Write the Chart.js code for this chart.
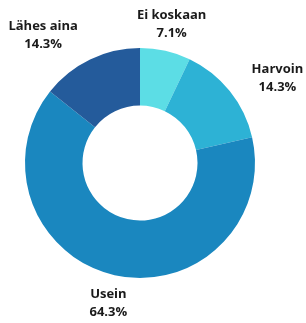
<!DOCTYPE html>
<html>
<head>
<meta charset="utf-8">
<script src="https://cdn.jsdelivr.net/npm/chart.js@4/dist/chart.umd.min.js"></script>
<style>
  html, body { margin: 0; padding: 0; background: #fff; }
  canvas { display: block; }
</style>
</head>
<body>
<canvas id="donut" width="306" height="323"></canvas>
<script>
// data
const categories = ['Ei koskaan', 'Harvoin', 'Usein', 'Lähes aina'];
const values = [7.1, 14.3, 64.3, 14.3];
const valueLabels = ['7.1%', '14.3%', '64.3%', '14.3%'];
const sliceColors = ['#5cdde5', '#2db2d5', '#1a87bf', '#245b9b'];

// draws the two-line label outside each slice, lines centred inside their block
const outsideLabels = {
    id: 'outsideLabels',
    afterDraw(chart) {
        const ctx = chart.ctx;
        const arcs = chart.getDatasetMeta(0).data;
        ctx.save();
        ctx.font = 'bold 13px "Open Sans", "Noto Sans", sans-serif';
        ctx.fillStyle = '#1a1a1a';
        ctx.textBaseline = 'middle';
        ctx.textAlign = 'center';
        arcs.forEach((arc, i) => {
            const mid = (arc.startAngle + arc.endAngle) / 2;
            const r = arc.outerRadius + 28;
            const c = Math.cos(mid);
            let cx = arc.x + c * r;
            const cy = arc.y + Math.sin(mid) * r + (Math.abs(c) > 0.6 ? 5 : 1);
            const w = Math.max(ctx.measureText(categories[i]).width, ctx.measureText(valueLabels[i]).width);
            if (c > 0.3) cx += w / 2;
            else if (c < -0.3) cx -= w / 2;
            ctx.fillText(categories[i], cx, cy - 9);
            ctx.fillText(valueLabels[i], cx, cy + 9);
        });
        ctx.restore();
    }
};

new Chart(document.getElementById('donut'), {
    type: 'doughnut',
    data: {
        labels: categories,
        datasets: [{
            data: values,
            backgroundColor: sliceColors,
            borderWidth: 0
        }]
    },
    options: {
        responsive: false,
        animation: false,
        cutout: '50%',
        layout: { padding: { top: 48, bottom: 45, left: 25, right: 51 } },
        plugins: {
            legend: { display: false },
            tooltip: { enabled: false }
        }
    },
    plugins: [outsideLabels]
});
</script>
</body>
</html>
